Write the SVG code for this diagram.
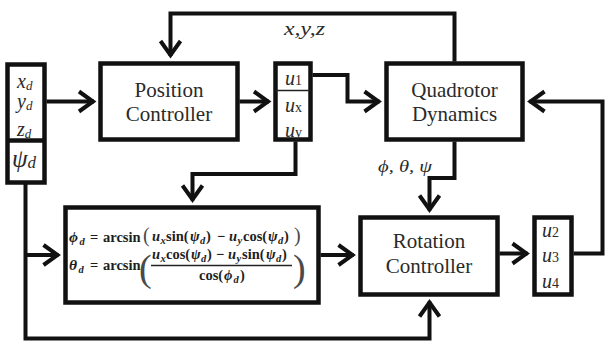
<svg xmlns="http://www.w3.org/2000/svg" width="609" height="342" viewBox="0 0 609 342">
<style>
  .box { fill: #fff; stroke: #111; stroke-width: 4.5; }
  .div { stroke: #222; stroke-width: 1.5; }
  .conn { fill: none; stroke: #111; stroke-width: 4; stroke-linejoin: miter; }
  text { font-family: 'Liberation Serif', 'Times New Roman', serif; }
  .lbl { font-size: 21px; fill: #2a2a2a; text-anchor: middle; }
  .var { font-style: italic; fill: #2a2a2a; }
  .eq { font-weight: bold; font-size: 14.5px; fill: #1e1e1e; }
  .eqi { font-style: italic; }
  .eqs { font-style: italic; font-size: 10.5px; }
  .par { fill: #4a4a4a; }
</style>
<defs>
  <marker id="arr" viewBox="-20 -12 24 24" refX="0" refY="0" markerWidth="24" markerHeight="24" markerUnits="userSpaceOnUse" orient="auto" overflow="visible">
    <path d="M-15,-10 L-1,0 L-15,10" fill="none" stroke="#111" stroke-width="4"/>
  </marker>
</defs>
<rect width="609" height="342" fill="#fff"/>

<g id="connectors">
  <path class="conn" d="M46.5 101.5 H94" marker-end="url(#arr)"/>
  <path class="conn" d="M239.5 101.5 H269" marker-end="url(#arr)"/>
  <path class="conn" d="M454.5 61.5 V13.5 H170.5 V56" marker-end="url(#arr)"/>
  <path class="conn" d="M312.5 75 H347.5 V101.5 H379.5" marker-end="url(#arr)"/>
  <path class="conn" d="M573.5 253.5 H602.5 V101.5 H529.5" marker-end="url(#arr)"/>
  <path class="conn" d="M454.5 141.5 V178 H429.5 V210.5" marker-end="url(#arr)"/>
  <path class="conn" d="M295.5 141.5 V174 H192.5 V200.5" marker-end="url(#arr)"/>
  <path class="conn" d="M25.5 184 V338.5 H429.5 V301.5" marker-end="url(#arr)"/>
  <path class="conn" d="M25.5 255 H58.5" marker-end="url(#arr)"/>
  <path class="conn" d="M320.5 255 H353.5" marker-end="url(#arr)"/>
  <path class="conn" d="M499.5 253.5 H527.5" marker-end="url(#arr)"/>
</g>

<g id="input-box">
  <rect class="box" x="7.5" y="64.5" width="37" height="118"/>
  <line class="box" x1="7.5" y1="140.5" x2="44.5" y2="140.5"/>
  <text class="var" x="17" y="88" font-size="20">x<tspan font-size="13" dy="2">d</tspan></text>
  <text class="var" x="17" y="108" font-size="20">y<tspan font-size="13" dy="2">d</tspan></text>
  <text class="var" x="17" y="136" font-size="20">z<tspan font-size="13" dy="2">d</tspan></text>
  <text class="var" x="12" y="167" font-size="25">ψ<tspan font-size="17" dy="1">d</tspan></text>
</g>

<g id="position-controller">
  <rect class="box" x="100.5" y="63.5" width="137" height="76"/>
  <text class="lbl" x="169" y="97">Position</text>
  <text class="lbl" x="169" y="121">Controller</text>
</g>

<g id="u-box">
  <rect class="box" x="275.5" y="63.5" width="35" height="76"/>
  <line class="div" x1="275.5" y1="90.5" x2="310.5" y2="90.5"/>
  <text class="var" x="285" y="85" font-size="20">u<tspan font-style="normal" font-size="14">1</tspan></text>
  <text class="var" x="285" y="112" font-size="20">u<tspan font-style="normal" font-size="14">x</tspan></text>
  <text class="var" x="285" y="137" font-size="20">u<tspan font-style="normal" font-size="14">y</tspan></text>
</g>

<g id="quadrotor-dynamics">
  <rect class="box" x="386.5" y="63.5" width="136" height="76"/>
  <text class="lbl" x="454.5" y="97">Quadrotor</text>
  <text class="lbl" x="454.5" y="121">Dynamics</text>
</g>

<g id="equation-box">
  <rect class="box" x="65.5" y="207.5" width="253" height="95"/>
  <!-- line 1 -->
  <text class="eq" y="242"><tspan x="69" class="eqi" font-size="15.5">ϕ</tspan><tspan x="79.5" dy="3" class="eqs">d</tspan><tspan x="90" dy="-3">=</tspan><tspan x="103">arcsin</tspan></text>
  <text class="par" x="143" y="241.5" font-size="20">(</text>
  <text class="eq" y="241"><tspan x="152" class="eqi">u</tspan><tspan x="160.5" dy="3" class="eqs">x</tspan><tspan x="166" dy="-3">sin(</tspan><tspan x="190" class="eqi">ψ</tspan><tspan x="200" dy="3" class="eqs">d</tspan><tspan x="206" dy="-3">)</tspan><tspan x="217">−</tspan><tspan x="229" class="eqi">u</tspan><tspan x="237.5" dy="3" class="eqs">y</tspan><tspan x="243" dy="-3">cos(</tspan><tspan x="268" class="eqi">ψ</tspan><tspan x="278" dy="3" class="eqs">d</tspan><tspan x="284" dy="-3">)</tspan></text>
  <text class="par" x="294" y="241.5" font-size="20">)</text>
  <!-- line 2 -->
  <text class="eq" y="270"><tspan x="69" class="eqi" font-size="15.5">θ</tspan><tspan x="78.5" dy="3" class="eqs">d</tspan><tspan x="90" dy="-3">=</tspan><tspan x="103">arcsin</tspan></text>
  <text class="par" x="139" y="281" font-size="38">(</text>
  <text class="eq" y="259"><tspan x="152" class="eqi">u</tspan><tspan x="160.5" dy="3" class="eqs">x</tspan><tspan x="166" dy="-3">cos(</tspan><tspan x="191" class="eqi">ψ</tspan><tspan x="201" dy="3" class="eqs">d</tspan><tspan x="207" dy="-3">)</tspan><tspan x="216">−</tspan><tspan x="228" class="eqi">u</tspan><tspan x="236.5" dy="3" class="eqs">y</tspan><tspan x="242" dy="-3">sin(</tspan><tspan x="266" class="eqi">ψ</tspan><tspan x="276" dy="3" class="eqs">d</tspan><tspan x="282" dy="-3">)</tspan></text>
  <line x1="151" y1="265.5" x2="292" y2="265.5" stroke="#222" stroke-width="1.3"/>
  <text class="eq" y="280"><tspan x="199">cos(</tspan><tspan x="224" class="eqi">ϕ</tspan><tspan x="233.5" dy="3" class="eqs">d</tspan><tspan x="240" dy="-3">)</tspan></text>
  <text class="par" x="293" y="281" font-size="38">)</text>
</g>

<g id="rotation-controller">
  <rect class="box" x="360.5" y="217.5" width="137" height="77"/>
  <text class="lbl" x="429" y="248">Rotation</text>
  <text class="lbl" x="429" y="273">Controller</text>
</g>

<g id="u234-box">
  <rect class="box" x="534.5" y="217.5" width="37" height="77"/>
  <text class="var" x="542" y="237" font-size="20">u<tspan font-style="normal" font-size="14">2</tspan></text>
  <text class="var" x="542" y="262" font-size="20">u<tspan font-style="normal" font-size="14">3</tspan></text>
  <text class="var" x="542" y="288" font-size="20">u<tspan font-style="normal" font-size="14">4</tspan></text>
</g>

<g id="labels">
  <text class="var" x="284" y="35" font-size="19" textLength="41" lengthAdjust="spacingAndGlyphs">x,y,z</text>
  <text class="var" x="378" y="172" font-size="17" textLength="54" lengthAdjust="spacingAndGlyphs">ϕ, θ, ψ</text>
</g>
</svg>
